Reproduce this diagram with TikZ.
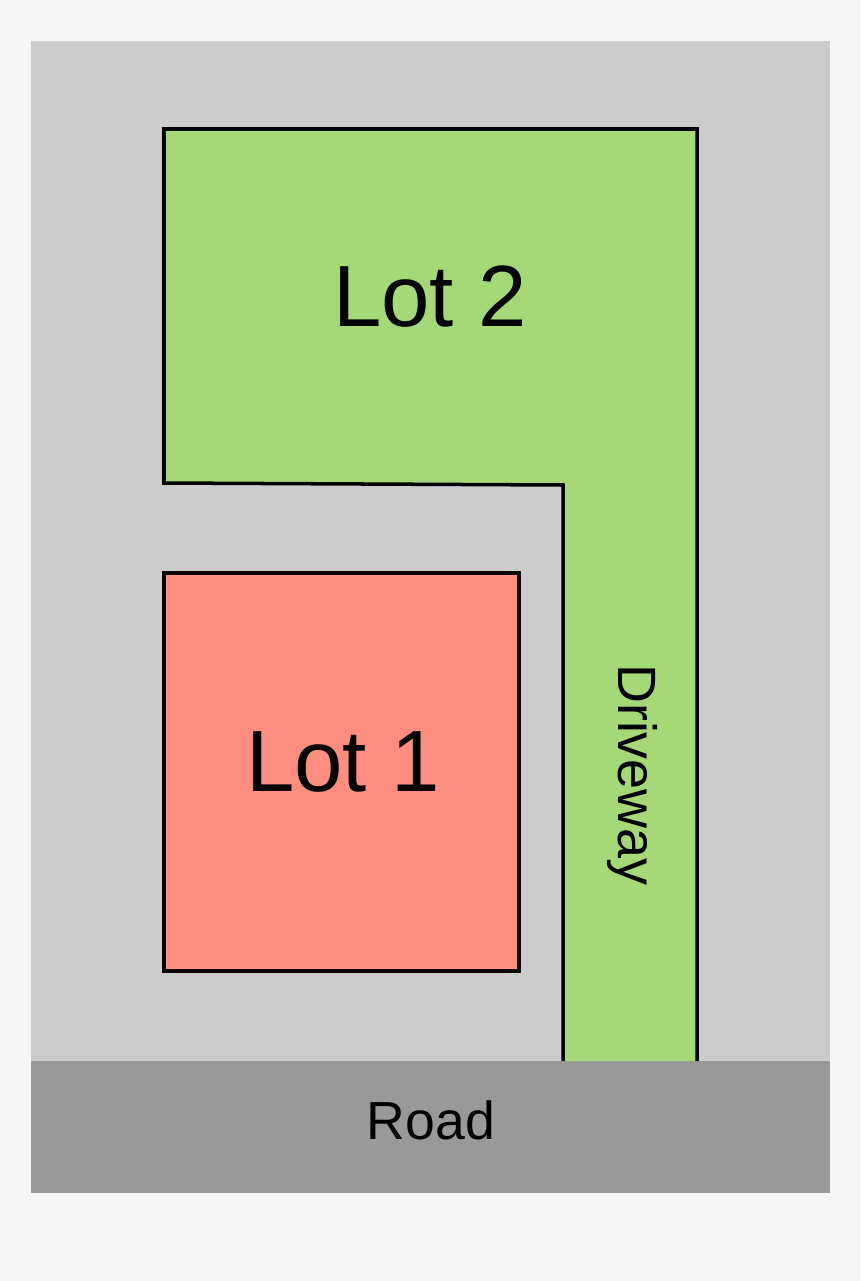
\documentclass[tikz,border=0pt]{standalone}
\usepackage{fontspec}
\setmainfont{Liberation Sans}
\usepackage{tikz}
\usetikzlibrary{positioning}
\definecolor{PageBg}{HTML}{F6F6F6}
\definecolor{SiteGrey}{HTML}{CCCCCC}
\definecolor{RoadGrey}{HTML}{999999}
\definecolor{LotGreen}{HTML}{A5D977}
\definecolor{LotRed}{HTML}{FF8E80}
\tikzset{
  % Boundary line
  edge/.style={draw=black,line width=2pt,line join=miter},
  % Labels
  bigL/.style={font=\fontsize{49.5}{49.5}\selectfont,inner sep=0pt},
  smallL/.style={font=\fontsize{30.7}{30.7}\selectfont,inner sep=0pt}
}
\begin{document}
\begin{tikzpicture}[x=0.02cm,y=-0.02cm]
  \fill[PageBg] (0,0) rectangle (860,1281);
  \fill[SiteGrey] (31,41) rectangle (830,1061);
  \fill[RoadGrey] (31,1061) rectangle (830,1193);
  \fill[LotGreen] (164,129) -- (697,129) -- (697,1061) -- (563,1061) -- (563,485) -- (164,483) -- cycle;
  \draw[edge] (697,1061) -- (697,129) -- (164,129) -- (164,483) -- (563,485) -- (563,1061);
  \draw[edge,fill=LotRed] (164,573) rectangle (519,971);
  \node[bigL] (lottwo) at (430,297) {Lot 2};
  \node[bigL] (lotone) at (343,762) {Lot 1};
  \node[smallL,rotate=-90,anchor=base] (drive) at (618,775) {Driveway};
  \node[smallL,font=\fontsize{30.5}{30.5}\selectfont] (road) at (431,1120) {Road};
\end{tikzpicture}
\end{document}
